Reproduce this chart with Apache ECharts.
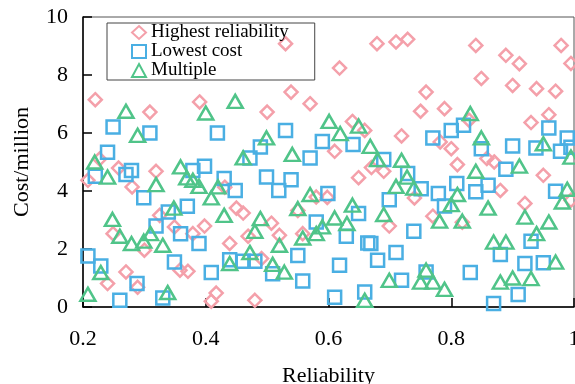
<!DOCTYPE html>
<html>
<head>
<meta charset="utf-8">
<script src="https://cdn.jsdelivr.net/npm/echarts@6/dist/echarts.min.js"></script>
<style>
  html, body { margin: 0; padding: 0; background: #fff; }
  #chart { width: 575px; height: 384px; }
</style>
</head>
<body>
<div id="chart"></div>
<script>
// ====== data: [reliability, cost/million] ======
const seriesNames = ["Highest reliability", "Lowest cost", "Multiple"];

const highestReliability = [
  [0.220, 7.15], [0.309, 6.72], [0.227, 5.10], [0.208, 4.37], [0.258, 4.79], [0.319, 4.68],
  [0.280, 4.14], [0.249, 2.53], [0.325, 3.16], [0.349, 2.76], [0.300, 1.96], [0.270, 1.21],
  [0.240, 0.81], [0.289, 0.68], [0.358, 1.27], [0.371, 1.23], [0.390, 7.07], [0.500, 6.72],
  [0.450, 3.41], [0.461, 3.24], [0.398, 2.79], [0.379, 2.53], [0.439, 2.19], [0.469, 2.44],
  [0.507, 2.89], [0.491, 1.67], [0.417, 0.48], [0.409, 0.20], [0.480, 0.23], [0.431, 4.13],
  [0.530, 9.08], [0.618, 8.24], [0.539, 7.41], [0.570, 7.01], [0.639, 6.40], [0.659, 6.09],
  [0.610, 5.37], [0.670, 4.81], [0.649, 4.46], [0.580, 3.79], [0.598, 3.78], [0.550, 3.33],
  [0.520, 2.47], [0.558, 2.53], [0.679, 9.08], [0.710, 9.14], [0.729, 9.23], [0.759, 7.41],
  [0.750, 6.75], [0.789, 6.84], [0.719, 5.90], [0.782, 5.69], [0.800, 5.46], [0.810, 4.91],
  [0.690, 4.68], [0.740, 3.76], [0.770, 3.13], [0.699, 2.79], [0.818, 2.92], [0.840, 9.02],
  [0.889, 8.68], [0.911, 8.39], [0.979, 9.02], [0.995, 8.40], [0.849, 7.88], [0.900, 7.64],
  [0.939, 7.53], [0.970, 7.44], [0.959, 6.63], [0.930, 6.36], [0.829, 6.44], [0.858, 5.12],
  [0.870, 5.00], [0.950, 4.54], [0.880, 4.02], [0.920, 3.57], [0.995, 3.68]
];

const lowestCost = [
  [0.249, 6.21], [0.309, 6.00], [0.240, 5.34], [0.220, 4.51], [0.270, 4.57], [0.279, 4.71],
  [0.299, 3.77], [0.339, 3.28], [0.319, 2.79], [0.208, 1.76], [0.229, 1.41], [0.349, 1.55],
  [0.288, 0.81], [0.260, 0.23], [0.330, 0.31], [0.419, 6.00], [0.489, 5.52], [0.472, 5.14],
  [0.398, 4.85], [0.379, 4.71], [0.430, 4.43], [0.448, 4.02], [0.499, 4.48], [0.370, 3.47],
  [0.359, 2.53], [0.389, 2.19], [0.439, 1.63], [0.461, 1.58], [0.480, 1.58], [0.409, 1.19],
  [0.530, 6.09], [0.590, 5.71], [0.640, 5.60], [0.570, 5.14], [0.539, 4.39], [0.519, 4.02],
  [0.599, 3.91], [0.580, 2.93], [0.649, 3.22], [0.629, 2.44], [0.664, 2.21], [0.550, 1.78],
  [0.618, 1.44], [0.509, 1.15], [0.558, 0.90], [0.610, 0.34], [0.659, 0.52], [0.690, 5.09],
  [0.729, 4.60], [0.751, 4.08], [0.770, 5.83], [0.800, 6.09], [0.820, 6.27], [0.809, 4.26],
  [0.779, 3.91], [0.789, 3.48], [0.699, 3.70], [0.739, 2.61], [0.669, 2.19], [0.680, 1.61],
  [0.710, 1.88], [0.719, 0.92], [0.759, 1.21], [0.831, 1.19], [0.959, 6.17], [0.989, 5.83],
  [0.900, 5.55], [0.849, 5.46], [0.938, 5.48], [0.978, 5.37], [0.995, 5.51], [0.889, 4.75],
  [0.860, 4.20], [0.840, 3.97], [0.970, 3.99], [0.930, 2.27], [0.880, 1.81], [0.920, 1.50],
  [0.950, 1.53], [0.909, 0.43], [0.869, 0.12]
];

const multiple = [
  [0.270, 6.75], [0.289, 5.92], [0.219, 5.00], [0.240, 4.48], [0.319, 4.22], [0.359, 4.83],
  [0.248, 3.02], [0.260, 2.44], [0.279, 2.19], [0.299, 2.27], [0.310, 2.53], [0.330, 2.13],
  [0.348, 3.41], [0.229, 1.19], [0.208, 0.44], [0.338, 0.50], [0.448, 7.09], [0.400, 6.69],
  [0.499, 5.83], [0.461, 5.14], [0.369, 4.45], [0.379, 4.37], [0.389, 4.16], [0.420, 4.14],
  [0.409, 3.76], [0.430, 3.16], [0.489, 3.05], [0.480, 2.61], [0.472, 1.88], [0.439, 1.50],
  [0.509, 1.47], [0.520, 2.13], [0.528, 1.20], [0.601, 6.40], [0.649, 6.24], [0.619, 5.98],
  [0.668, 5.54], [0.541, 5.26], [0.570, 3.88], [0.639, 3.51], [0.550, 3.39], [0.610, 3.07],
  [0.630, 2.88], [0.590, 2.76], [0.580, 2.53], [0.558, 2.38], [0.659, 0.23], [0.680, 5.08],
  [0.719, 5.06], [0.728, 4.48], [0.739, 4.10], [0.710, 4.16], [0.831, 6.67], [0.810, 3.88],
  [0.800, 3.53], [0.781, 2.96], [0.818, 2.96], [0.690, 3.19], [0.699, 0.92], [0.759, 1.27],
  [0.750, 0.86], [0.770, 0.86], [0.789, 0.61], [0.849, 5.83], [0.950, 5.63], [0.995, 5.17],
  [0.911, 4.86], [0.840, 4.68], [0.989, 4.06], [0.981, 3.62], [0.860, 3.41], [0.920, 3.10],
  [0.959, 2.93], [0.939, 2.53], [0.869, 2.24], [0.889, 2.24], [0.970, 1.55], [0.900, 1.00],
  [0.880, 0.86], [0.930, 0.98]
];

const serif = "'Liberation Serif', 'Times New Roman', serif";

const chart = echarts.init(document.getElementById("chart"));

function scatter(name, data, symbol, size, color) {
  return {
    name,
    type: "scatter",
    data,
    symbol,
    symbolSize: size,
    clip: false,
    itemStyle: { color: "rgba(255,255,255,0)", borderColor: color, borderWidth: 2.5, opacity: 1 },
    emphasis: { disabled: true },
  };
}

chart.setOption({
  animation: false,
  textStyle: { fontFamily: serif },
  grid: {
    left: 83, right: 1, top: 17, bottom: 77,
    outerBoundsMode: "none",
    containLabel: false,
    show: true, borderColor: "#555", borderWidth: 1, backgroundColor: "transparent",
  },
  legend: {
    orient: "vertical",
    left: 107, top: 23,
    padding: [0, 26, 0, 24],
    itemGap: 0,
    itemWidth: 14, itemHeight: 13,
    borderColor: "#444", borderWidth: 1,
    textStyle: { fontFamily: serif, fontSize: 19, color: "#000", lineHeight: 18.5 },
    data: seriesNames,
  },
  xAxis: {
    type: "value",
    min: 0.2, max: 1, interval: 0.2,
    name: "Reliability",
    nameLocation: "middle",
    nameGap: 58,
    nameTextStyle: { fontFamily: serif, fontSize: 22, color: "#000" },
    axisLine: { lineStyle: { color: "#000", width: 1.5 } },
    axisTick: { inside: true, length: 9, lineStyle: { color: "#000", width: 1.5 } },
    axisLabel: { fontFamily: serif, fontSize: 22, color: "#000", margin: 21 },
    splitLine: { show: false },
  },
  yAxis: {
    type: "value",
    min: 0, max: 10, interval: 2,
    name: "Cost/million",
    nameLocation: "middle",
    nameGap: 50,
    nameTextStyle: { fontFamily: serif, fontSize: 22, color: "#000" },
    axisLine: { lineStyle: { color: "#000", width: 1.5 } },
    axisTick: { inside: true, length: 9, lineStyle: { color: "#000", width: 1.5 } },
    axisLabel: { fontFamily: serif, fontSize: 22, color: "#000", margin: 15 },
    splitLine: { show: false },
  },
  series: [
    scatter(seriesNames[0], highestReliability, "diamond", 13, "#f4a0aa"),
    scatter(seriesNames[1], lowestCost, "rect", 13, "#4aafe3"),
    scatter(seriesNames[2], multiple, "triangle", [15, 13], "#50c489"),
  ],
});
</script>
</body>
</html>
